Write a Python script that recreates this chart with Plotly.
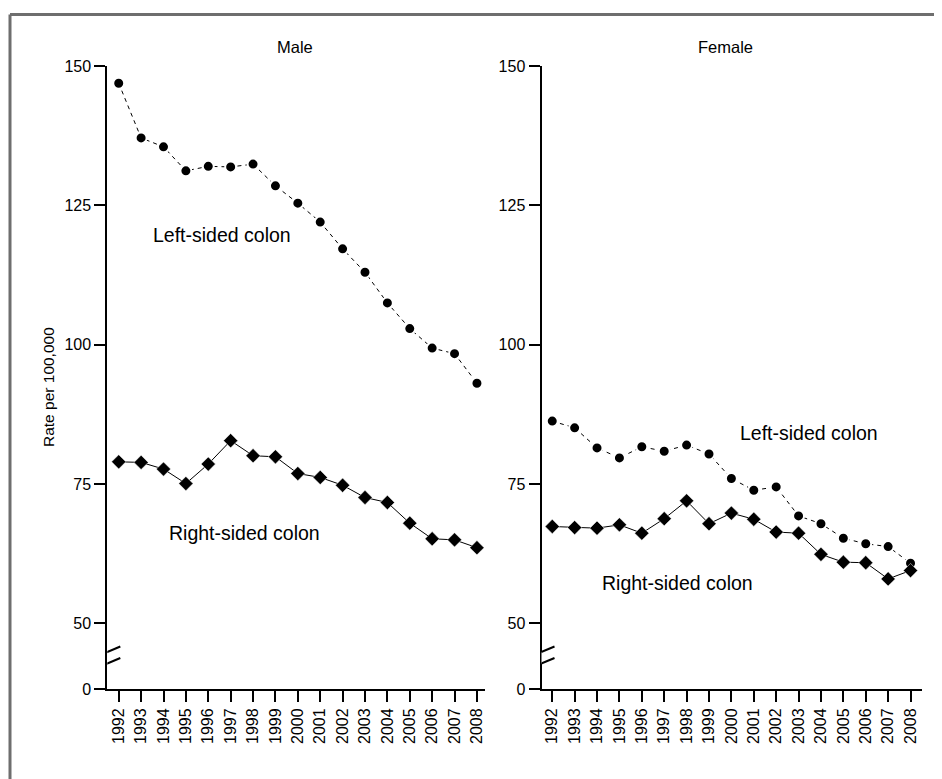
import plotly.graph_objects as go

years = list(range(1992, 2009))
year_labels = [str(y) for y in years]

male_left = [146.9, 137.1, 135.5, 131.2, 132.0, 131.9, 132.4, 128.5, 125.4, 122.0,
             117.2, 113.0, 107.5, 102.9, 99.4, 98.4, 93.1]
male_right = [79.0, 78.9, 77.7, 75.1, 78.6, 82.8, 80.1, 79.9, 76.9, 76.2,
              74.8, 72.6, 71.7, 68.0, 65.2, 65.0, 63.6]
female_left = [86.3, 85.1, 81.5, 79.7, 81.7, 80.9, 82.0, 80.4, 76.0, 73.9,
               74.5, 69.3, 67.9, 65.3, 64.3, 63.8, 60.8]
female_right = [67.4, 67.2, 67.1, 67.7, 66.2, 68.8, 72.0, 67.9, 69.8, 68.7,
                66.4, 66.2, 62.4, 61.0, 60.9, 58.0, 59.5]

# y axis: break between 0 and 50 (the "0" label sits at the bottom of the compressed axis)
y_bottom = 38.25
y_tickvals = [y_bottom, 50, 75, 100, 125, 150]
y_ticktext = ["0", "50", "75", "100", "125", "150"]

FONT = "Liberation Sans, Arial, sans-serif"

# page offset (browser body margin) and figure size
OX, OY = 8, 8
W, H = 934, 771


def px(x):
    return (x - OX) / W


def py(y):
    return 1 - (y - OY) / H


fig = go.Figure()


def add_pair(left, right, xa, ya):
    fig.add_trace(go.Scatter(
        x=years, y=left, mode="lines+markers", xaxis=xa, yaxis=ya,
        line=dict(color="black", width=1, dash="4px,4px"),
        marker=dict(symbol="circle", size=11, color="black",
                    line=dict(color="white", width=2)),
        showlegend=False))
    fig.add_trace(go.Scatter(
        x=years, y=right, mode="lines+markers", xaxis=xa, yaxis=ya,
        line=dict(color="black", width=1),
        marker=dict(symbol="diamond", size=11, color="black",
                    line=dict(color="white", width=0.5)),
        showlegend=False))


add_pair(male_left, male_right, "x", "y")
add_pair(female_left, female_right, "x2", "y2")

xcommon = dict(
    tickmode="array", tickvals=years, ticktext=year_labels, tickangle=-90,
    showline=True, linecolor="black", linewidth=2,
    ticks="outside", ticklen=11, tickwidth=2, tickcolor="black",
    showgrid=False, zeroline=False, automargin=False,
    tickfont=dict(family=FONT, size=16, color="black"),
)
ycommon = dict(
    range=[y_bottom, 150], tickmode="array", tickvals=y_tickvals, ticktext=y_ticktext,
    showline=True, linecolor="black", linewidth=2,
    ticks="outside", ticklen=11, tickwidth=2, tickcolor="black",
    showgrid=False, zeroline=False, automargin=False,
    tickfont=dict(family=FONT, size=16, color="black"),
    domain=[py(689), py(66)],
)

fig.update_layout(
    width=W, height=H,
    margin=dict(l=0, r=0, t=0, b=0),
    paper_bgcolor="white", plot_bgcolor="white",
    font=dict(family=FONT, color="black"),
    xaxis=dict(xcommon, domain=[px(107.3), px(485)], range=[1991.49, 2008.36], anchor="y"),
    yaxis=dict(ycommon, anchor="x"),
    xaxis2=dict(xcommon, domain=[px(541.5), px(921.5)], range=[1991.52, 2008.49], anchor="y2"),
    yaxis2=dict(ycommon, anchor="x2"),
)

# Axis-break marks
shapes = []
brk_y = 43.9
for xa, ya, xpos in [("x", "y", 1991.49), ("x2", "y2", 1991.52)]:
    shapes.append(dict(type="path", xref=xa, yref=ya, xsizemode="pixel", ysizemode="pixel",
                       xanchor=xpos, yanchor=brk_y,
                       path="M -12 0.5 L 13 11 L 13 -0.5 L -12 -11 Z",
                       fillcolor="white", line=dict(width=0), layer="above"))
    for (y0, y1) in [(0.5, 11), (-11, -0.5)]:
        shapes.append(dict(type="line", xref=xa, yref=ya, xsizemode="pixel", ysizemode="pixel",
                           xanchor=xpos, yanchor=brk_y, x0=-12, y0=y0, x1=13, y1=y1,
                           line=dict(color="black", width=2), layer="above"))

# Outer frame: top and left edges only (it continues past the right and bottom edges)
frame = dict(color="#6e6e6e", width=3)
shapes.append(dict(type="line", xref="paper", yref="paper",
                   x0=px(10), x1=1.2, y0=py(14.5), y1=py(14.5), line=frame, layer="below"))
shapes.append(dict(type="line", xref="paper", yref="paper",
                   x0=px(10), x1=px(10), y0=py(14.5), y1=-0.2, line=frame, layer="below"))
fig.update_layout(shapes=shapes)

ann_base = dict(showarrow=False, xanchor="center", yanchor="middle")
annotations = [
    dict(ann_base, text="Male", x=px(295), y=py(47), xref="paper", yref="paper",
         font=dict(size=16.5, family=FONT)),
    dict(ann_base, text="Female", x=px(725), y=py(47), xref="paper", yref="paper",
         font=dict(size=16.5, family=FONT)),
    dict(ann_base, text="Rate per 100,000", x=px(48), y=py(387), xref="paper", yref="paper",
         textangle=-90, font=dict(size=15.5, family=FONT)),
    dict(ann_base, text="Left-sided colon", x=1996.62, y=119.7, xref="x", yref="y",
         font=dict(size=19.5, family=FONT)),
    dict(ann_base, text="Right-sided colon", x=1997.6, y=66.3, xref="x", yref="y",
         font=dict(size=19.5, family=FONT)),
    dict(ann_base, text="Left-sided colon", x=2003.47, y=84.2, xref="x2", yref="y2",
         font=dict(size=19.5, family=FONT)),
    dict(ann_base, text="Right-sided colon", x=1997.6, y=57.3, xref="x2", yref="y2",
         font=dict(size=19.5, family=FONT)),
]
fig.update_layout(annotations=annotations)

fig.write_html("out.html")
